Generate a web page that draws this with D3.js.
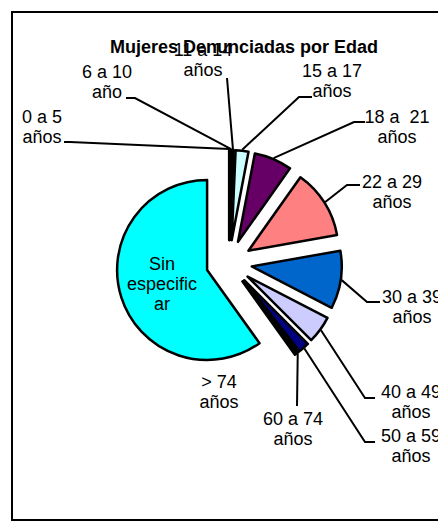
<!DOCTYPE html>
<html>
<head>
<meta charset="utf-8">
<script src="https://cdn.jsdelivr.net/npm/d3@7"></script>
<style>
  body { margin: 0; background: #fff; }
  svg text { font-family: "Liberation Sans", Arial, sans-serif; fill: #000; white-space: pre; }
</style>
</head>
<body>
<div id="chart"></div>
<script>
// age groups, share of women (%)
var categories = ["0 a 5 años", "6 a 10 año", "11 a 14 años", "15 a 17 años", "18 a  21 años",
	"22 a 29 años", "30 a 39 años", "40 a 49 años", "50 a 59 años", "60 a 74 años", "> 74 años", "Sin especificar"];
var values = [0.2, 0.2, 0.3, 2.3, 6.8, 12.4, 10.4, 4.9, 2.0, 0.4, 0.2, 59.9];
var labelLines = [["0 a 5", "años"], ["6 a 10", "año"], ["11 a 14", "años"], ["15 a 17", "años"],
	["18 a  21", "años"], ["22 a 29", "años"], ["30 a 39", "años"], ["40 a 49", "años"],
	["50 a 59", "años"], ["60 a 74", "años"], ["> 74", "años"], ["Sin", "especific", "ar"]];
var colors = ["#9999FF", "#993366", "#FFFFCC", "#CCFFFF", "#660066", "#FF8080",
	"#0066CC", "#CCCCFF", "#000080", "#FF00FF", "#FFFF00", "#00FFFF"];

var width = 438, height = 522;
var cx = 229, cy = 263, radius = 90, explode = 23;

// label placement: text centre x, first baseline y, leader stub (null = none)
var labelLayout = [
	{x: 42, y: 123, stub: [[64, 142], [70, 142]]},
	{x: 107, y: 78, stub: [[126, 98], [135, 98]]},
	{x: 203, y: 56, stub: [[227, 78], [227, 78]]},
	{x: 332, y: 77, stub: [[312, 97], [299, 97]]},
	{x: 397, y: 123, stub: [[365, 122], [354, 122]]},
	{x: 392, y: 188, stub: [[360, 185], [347, 185]]},
	{x: 412, y: 303, stub: [[380, 302], [367, 302]]},
	{x: 411, y: 398, stub: [[375, 398], [365, 398]]},
	{x: 411, y: 442, stub: [[375, 442], [365, 442]]},
	{x: 293, y: 425, stub: [[297, 406], [297, 406]]},
	{x: 219, y: 388, stub: null},
	{x: 162, y: 270, stub: null}
];

var svg = d3.select("#chart").append("svg")
	.attr("width", width)
	.attr("height", height);

// chart frame
svg.append("rect")
	.attr("x", 12)
	.attr("y", 12)
	.attr("width", 440)
	.attr("height", 508)
	.attr("fill", "#fff")
	.attr("stroke", "#000")
	.attr("stroke-width", 2);

svg.append("text")
	.attr("x", 244)
	.attr("y", 53)
	.attr("text-anchor", "middle")
	.style("font-size", "18px")
	.style("font-weight", "bold")
	.text("Mujeres Denunciadas por Edad");

var pie = d3.pie().sort(null).value(function(d) { return d; });
var arcs = pie(values);

var arc = d3.arc().innerRadius(0).outerRadius(radius);

function midAngle(d) { return (d.startAngle + d.endAngle) / 2; }
function offset(d, r) {
	var a = midAngle(d);
	return [Math.sin(a) * r, -Math.cos(a) * r];
}

var g = svg.append("g").attr("transform", "translate(" + cx + "," + cy + ")");

// leader lines first, slices drawn over them
arcs.forEach(function(d, i) {
	var lay = labelLayout[i];
	if (!lay.stub) return;
	var tip = offset(d, explode + radius + 1);
	var pts = [
		[lay.stub[0][0] - cx, lay.stub[0][1] - cy],
		[lay.stub[1][0] - cx, lay.stub[1][1] - cy],
		tip
	];
	g.append("path")
		.attr("d", d3.line()(pts))
		.attr("fill", "none")
		.attr("stroke", "#000")
		.attr("stroke-width", 2);
});

g.selectAll(".slice")
	.data(arcs)
	.enter()
	.append("path")
	.attr("class", "slice")
	.attr("transform", function(d) {
		var o = offset(d, explode);
		return "translate(" + o[0] + "," + o[1] + ")";
	})
	.attr("d", arc)
	.attr("fill", function(d, i) { return colors[i]; })
	.attr("stroke", "#000")
	.attr("stroke-width", 2.5)
	.attr("stroke-linejoin", "round");

// labels
arcs.forEach(function(d, i) {
	var lay = labelLayout[i];
	var t = svg.append("text")
		.attr("text-anchor", "middle")
		.style("font-size", "18px");
	labelLines[i].forEach(function(line, k) {
		t.append("tspan")
			.attr("x", lay.x)
			.attr("y", lay.y + k * 20)
			.text(line);
	});
});
</script>
</body>
</html>
